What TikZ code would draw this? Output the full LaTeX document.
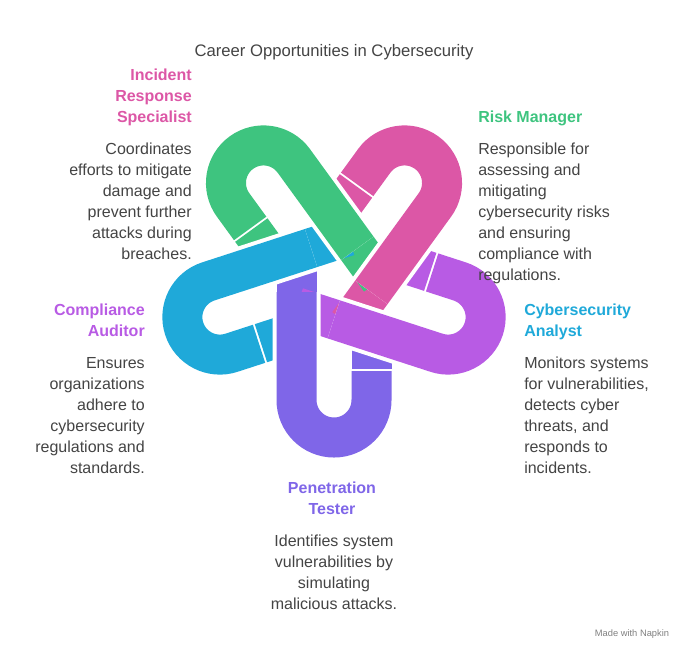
\documentclass[tikz,border=0pt]{standalone}
\usepackage{fontspec}
\setmainfont{Liberation Sans}
\definecolor{cpurple}{HTML}{7F66E8}
\definecolor{cmagenta}{HTML}{B85BE4}
\definecolor{cpink}{HTML}{DC57A6}
\definecolor{cgreen}{HTML}{3EC47F}
\definecolor{ccyan}{HTML}{1FA9D9}
\definecolor{ctext}{HTML}{444444}
\tikzset{
  hookarm/.style={line width=30pt, line cap=butt},
  hookgap/.style={line width=36pt, line cap=butt, white},
  rolename/.style={font=\bfseries\fontsize{12}{15.75}\selectfont, inner sep=0pt},
  roletext/.style={font=\fontsize{12}{15.75}\selectfont, text=ctext, inner sep=0pt},
}
\begin{document}
\begin{tikzpicture}[x=0.75pt, y=-0.75pt]
  \useasboundingbox (0,0) rectangle (700,658);
  % hidden ends of the hooks
  \foreach \ang/\col in {0/cpurple,72/cmagenta,144/cpink,216/cgreen,288/ccyan}{
    \begin{scope}[shift={(334,280)}, rotate=\ang]
      \draw[hookarm, \col] (-37.5,14) -- (-37.5,-27);
      \draw[hookarm, \col] (37.5,89) -- (37.5,52);
    \end{scope}
  }
  % hook bodies
  \foreach \ang/\col in {0/cpurple,72/cmagenta,144/cpink,216/cgreen,288/ccyan}{
    \begin{scope}[shift={(334,280)}, rotate=\ang]
      \draw[hookgap] (-37.5,12) -- (-37.5,120) arc[start angle=180, end angle=0, radius=37.5] -- (37.5,91);
      \draw[hookarm, \col] (-37.5,12) -- (-37.5,120) arc[start angle=180, end angle=0, radius=37.5] -- (37.5,91);
    \end{scope}
  }
  \node[font=\fontsize{12.5}{15}\selectfont, text=ctext] (title) at (334,52) {Career Opportunities in Cybersecurity};

  \node[rolename, text=cpink, anchor=north east, align=right] (incident) at (192,69) {Incident\\Response\\Specialist};
  \node[roletext, anchor=north east, align=right] (incidenttxt) at (192,143) {Coordinates\\efforts to mitigate\\damage and\\prevent further\\attacks during\\breaches.};

  \node[rolename, text=cgreen, anchor=north west, align=left] (risk) at (478,111) {Risk Manager};
  \node[roletext, anchor=north west, align=left] (risktxt) at (478,143) {Responsible for\\assessing and\\mitigating\\cybersecurity risks\\and ensuring\\compliance with\\regulations.};

  \node[rolename, text=ccyan, anchor=north west, align=left] (analyst) at (524,304) {Cybersecurity\\Analyst};
  \node[roletext, anchor=north west, align=left] (analysttxt) at (524,357) {Monitors systems\\for vulnerabilities,\\detects cyber\\threats, and\\responds to\\incidents.};

  \node[rolename, text=cmagenta, anchor=north east, align=right] (auditor) at (145,304) {Compliance\\Auditor};
  \node[roletext, anchor=north east, align=right] (auditortxt) at (145,357) {Ensures\\organizations\\adhere to\\cybersecurity\\regulations and\\standards.};

  \node[rolename, text=cpurple, anchor=north, align=center] (tester) at (332,482) {Penetration\\Tester};
  \node[roletext, anchor=north, align=center] (testertxt) at (334,535) {Identifies system\\vulnerabilities by\\simulating\\malicious attacks.};

  \node[font=\fontsize{7}{8}\selectfont, text=gray] (napkin) at (632,634) {Made with Napkin};
\end{tikzpicture}
\end{document}
